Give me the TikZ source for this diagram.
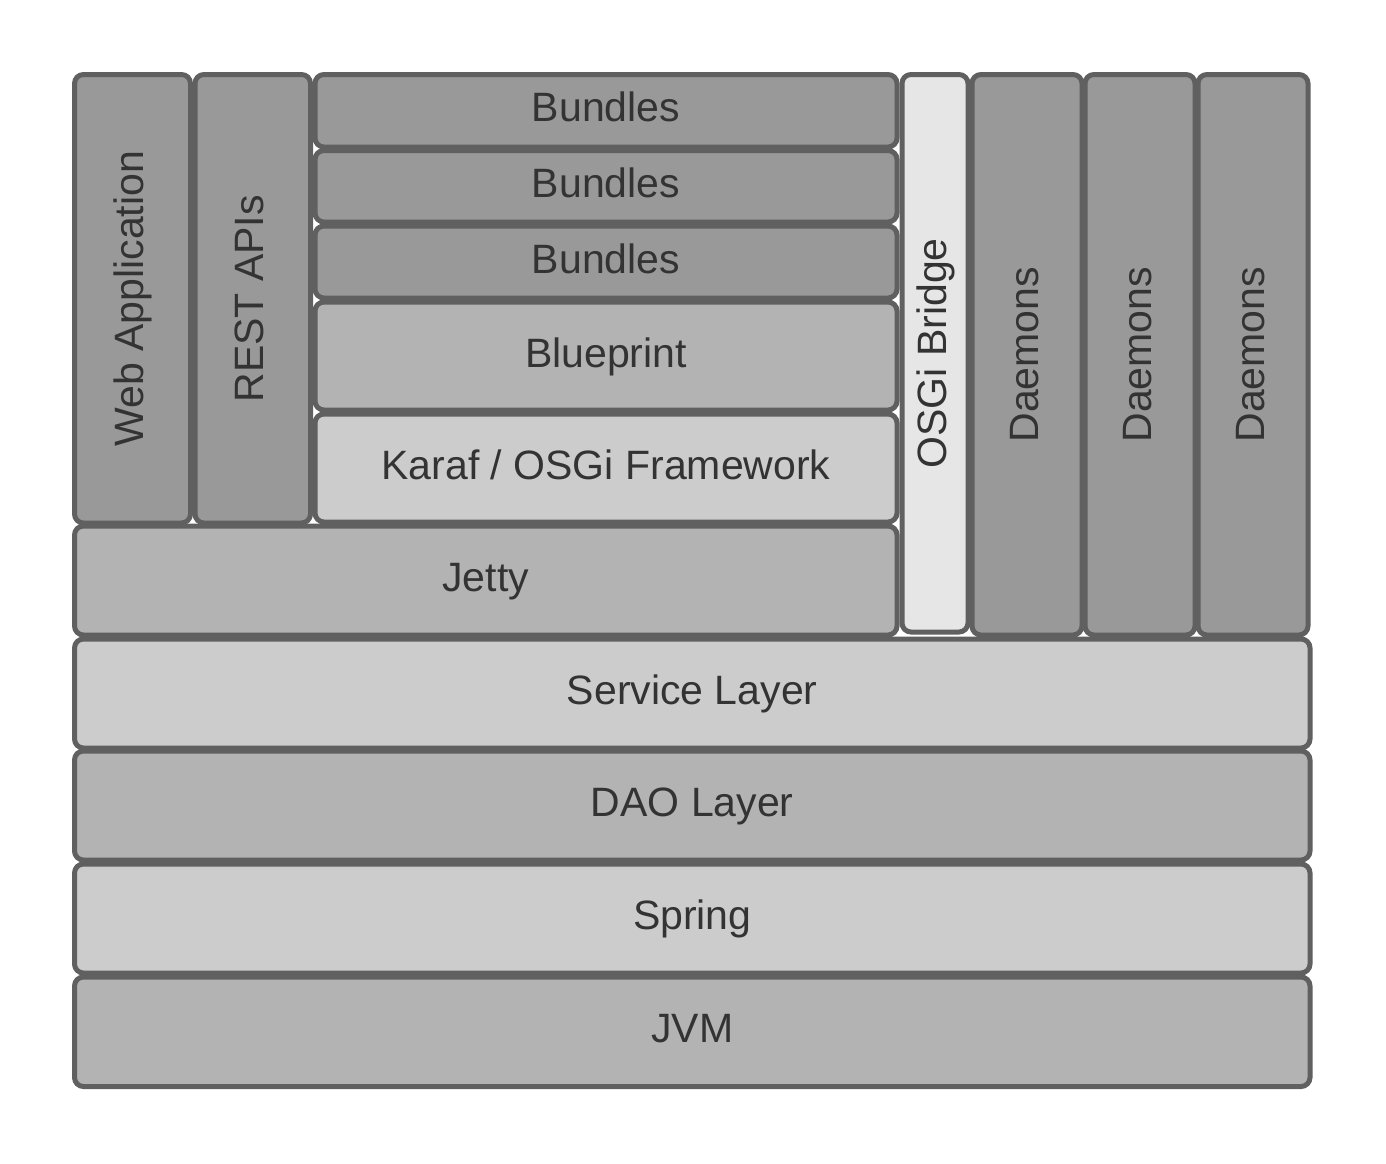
\documentclass[tikz,border=0pt]{standalone}
\usepackage{fontspec}
\setmainfont{Liberation Sans}
\definecolor{cA}{HTML}{999999}
\definecolor{cB}{HTML}{B3B3B3}
\definecolor{cC}{HTML}{CCCCCC}
\definecolor{cD}{HTML}{E6E6E6}
\definecolor{edge}{HTML}{606060}
\definecolor{ink}{HTML}{333333}
\newcommand{\lbox}[6]{\node[stack,fill=#6,minimum width={#4-#2},minimum height={#5-#3}] (#1) at ({(#2+#4)/2},{(#3+#5)/2}) {};}
\tikzset{
  stack/.style={draw=edge,line width=5pt,rounded corners=9pt,inner sep=0pt,outer sep=0pt},
  hlbl/.style={text=ink,font=\fontsize{41}{49}\selectfont,inner sep=0pt,anchor=base},
  vlbl/.style={rotate=90,hlbl}
}
\begin{document}
\begin{tikzpicture}[x=1pt,y=-1pt]
\useasboundingbox (0,0) rectangle (1386,1163);
\lbox{web}{74.5}{74.5}{190.5}{523}{cA}
\lbox{rest}{195}{74.5}{310.5}{523}{cA}
\lbox{bun1}{315}{74.5}{897}{147}{cA}
\lbox{bun2}{315}{150.5}{897}{222}{cA}
\lbox{bun3}{315}{226}{897}{298}{cA}
\lbox{blue}{315}{302}{897}{410}{cB}
\lbox{karaf}{315}{414}{897}{522}{cC}
\lbox{jetty}{74.5}{526}{897}{635}{cB}
\lbox{osgi}{902}{74.5}{968}{632}{cD}
\lbox{dmn1}{972}{74.5}{1082}{635}{cA}
\lbox{dmn2}{1085}{74.5}{1195}{635}{cA}
\lbox{dmn3}{1198}{74.5}{1308}{635}{cA}
\lbox{svc}{74.5}{639}{1310}{748}{cC}
\lbox{dao}{74.5}{751}{1310}{860}{cB}
\lbox{spring}{74.5}{864}{1310}{973}{cC}
\lbox{jvm}{74.5}{977}{1310}{1086.5}{cB}
\node[hlbl] (tbun1) at ([yshift=-11pt]bun1.center) {Bundles};
\node[hlbl] (tbun2) at ([yshift=-11pt]bun2.center) {Bundles};
\node[hlbl] (tbun3) at ([yshift=-11pt]bun3.center) {Bundles};
\node[hlbl] (tblue) at ([yshift=-11pt]blue.center) {Blueprint};
\node[hlbl] (tkaraf) at ([yshift=-11pt]karaf.center) {Karaf / OSGi Framework};
\node[hlbl] (tjetty) at ([yshift=-11pt]jetty.center) {Jetty};
\node[hlbl] (tsvc) at ([yshift=-11pt]svc.center) {Service Layer};
\node[hlbl] (tdao) at ([yshift=-11pt]dao.center) {DAO Layer};
\node[hlbl] (tspring) at ([yshift=-11pt]spring.center) {Spring};
\node[hlbl] (tjvm) at ([yshift=-11pt]jvm.center) {JVM};
\node[vlbl] (tweb) at ([xshift=11pt]web.center) {Web Application};
\node[vlbl] (trest) at ([xshift=11pt]rest.center) {REST APIs};
\node[vlbl] (tosgi) at ([xshift=11pt]osgi.center) {OSGi Bridge};
\node[vlbl] (td1) at ([xshift=11pt]dmn1.center) {Daemons};
\node[vlbl] (td2) at ([xshift=11pt]dmn2.center) {Daemons};
\node[vlbl] (td3) at ([xshift=11pt]dmn3.center) {Daemons};
\end{tikzpicture}
\end{document}
